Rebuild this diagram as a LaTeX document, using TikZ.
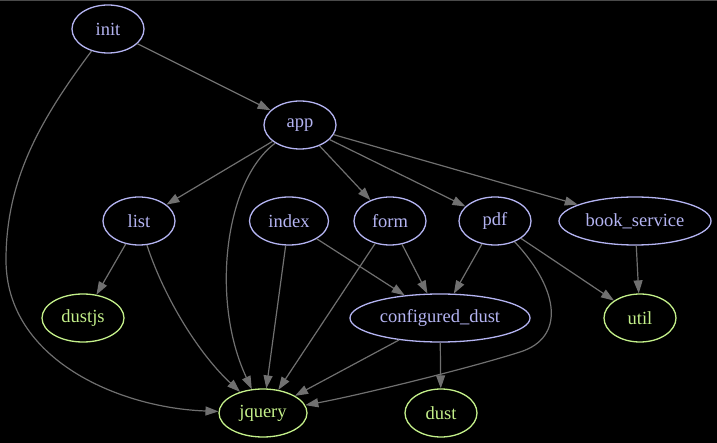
\documentclass[tikz,border=0pt]{standalone}
\usepackage{fontspec}
\setmainfont{Liberation Serif}
\usetikzlibrary{arrows.meta, shapes.geometric}
\definecolor{cmod}{HTML}{B4B4F2}
\definecolor{clib}{HTML}{C4F08A}
\definecolor{cedge}{HTML}{707070}
\definecolor{cframe}{HTML}{4A4A4A}
\tikzset{
  every picture/.style={font=\rmfamily\fontsize{18.5}{22}\selectfont, line width=1.2pt},
  mod/.style={ellipse, draw=#1, text=#1, inner sep=0pt, minimum width=72pt, minimum height=48pt, line width=1.3pt},
  mod/.default=cmod,
  lib/.style={mod=clib},
  arrow/.style={-{Triangle[length=13pt, width=9pt]}, draw=cedge, line width=1.2pt},
}

\begin{document}
\begin{tikzpicture}[x=1pt, y=-1pt]
  % background
  \fill[black] (0,0) rectangle (717,443);
  \useasboundingbox (0,0) rectangle (717,443);
  \draw[cframe, line width=1.5pt] (0,0.75) -- (717,0.75);
  % modules
  \node[mod] (init) at (108,29) {init};
  \node[mod] (app) at (300,125) {app};
  \node[mod] (list) at (139,221) {list};
  \node[mod, minimum width=79pt] (index) at (289,221) {index};
  \node[mod] (form) at (390,221) {form};
  \node[mod] (pdf) at (495,221) {pdf};
  \node[mod, minimum width=152pt] (booksvc) at (635,221) {book\_service};
  \node[mod, minimum width=180pt] (cdust) at (440,318) {configured\_dust};
  % libraries
  \node[lib, minimum width=82pt] (dustjs) at (83,318) {dustjs};
  \node[lib] (util) at (640,318) {util};
  \node[lib, minimum width=88pt] (jquery) at (263,413) {jquery};
  \node[lib] (dust) at (441,413) {dust};
  % straight edges
  \foreach \a/\b in {init/app, app/list, app/form, app/pdf, app/booksvc, list/dustjs,
    index/cdust, index/jquery, form/cdust, form/jquery, pdf/cdust, pdf/util,
    booksvc/util, cdust/dust, cdust/jquery}
    \draw[arrow] (\a) -- (\b);
  % curved edges
  \draw[arrow] (init) .. controls (40,120) and (6,180) .. (6,260)
    .. controls (6,360) and (120,408) .. (jquery);
  \draw[arrow] (app) .. controls (225,180) and (210,300) .. (jquery);
  \draw[arrow] (list) .. controls (165,300) and (200,355) .. (jquery);
  \draw[arrow] (pdf) .. controls (560,290) and (565,338) .. (520,352)
    .. controls (470,368) and (360,395) .. (jquery);
\end{tikzpicture}
\end{document}
